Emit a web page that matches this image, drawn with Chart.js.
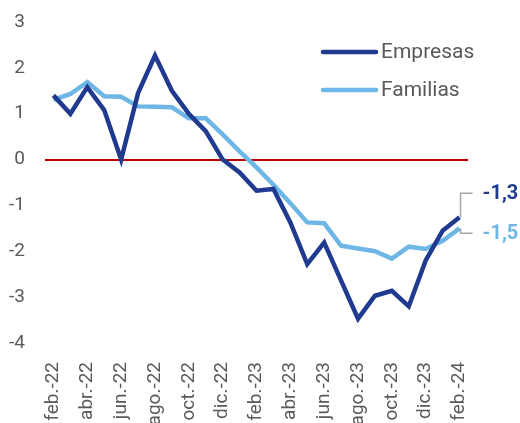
<!DOCTYPE html>
<html><head><meta charset="utf-8">
<script src="https://cdn.jsdelivr.net/npm/chart.js@4/dist/chart.umd.min.js"></script>
<style>html,body{margin:0;padding:0;background:#fff;}#wrap{width:520px;height:423px;}</style>
</head><body><div id="wrap"><canvas id="c" width="520" height="423"></canvas></div>
<script>
const categories = ['feb.-22','mar.-22','abr.-22','may.-22','jun.-22','jul.-22','ago.-22','sep.-22','oct.-22','nov.-22','dic.-22',
  'ene.-23','feb.-23','mar.-23','abr.-23','may.-23','jun.-23','jul.-23','ago.-23','sep.-23','oct.-23','nov.-23','dic.-23',
  'ene.-24','feb.-24'];
const empresas = [1.4,1.0,1.58,1.08,0.0,1.45,2.27,1.5,1.0,0.62,0.0,-0.28,-0.68,-0.64,-1.37,-2.28,-1.81,-2.64,-3.47,-2.97,-2.86,-3.2,-2.2,-1.55,-1.26];
const familias = [1.3,1.43,1.69,1.38,1.37,1.16,1.15,1.14,0.9,0.9,0.55,0.18,-0.17,-0.55,-0.95,-1.37,-1.39,-1.88,-1.94,-2.0,-2.16,-1.9,-1.95,-1.77,-1.5];
const seriesNames = ['Empresas','Familias'];
const yTicks = [-4,-3,-2,-1,0,1,2,3];

const DARK = '#203a8f', LIGHT = '#6db6e6', GREY = '#595959';
const FONT = 'Roboto, "Liberation Sans", sans-serif';

const overlay = {
  id: 'overlay',
  afterDatasetsDraw(chart) {
    const ctx = chart.ctx, ca = chart.chartArea;
    ctx.save();
    // legend
    chart.data.datasets.forEach((ds, i) => {
      const y = ca.top + 30 + i * 38;
      const x0 = ca.right - 145;
      ctx.strokeStyle = ds.borderColor; ctx.lineWidth = 4.5; ctx.lineCap = 'round';
      ctx.beginPath(); ctx.moveTo(x0, y); ctx.lineTo(x0 + 53, y); ctx.stroke();
      ctx.fillStyle = GREY; ctx.font = '21px ' + FONT; ctx.textBaseline = 'middle'; ctx.textAlign = 'left';
      ctx.fillText(ds.label, x0 + 58, y + 1);
    });
    // end labels
    const offs = [-24, 5];
    chart.data.datasets.forEach((ds, i) => {
      const meta = chart.getDatasetMeta(i);
      const pt = meta.data[meta.data.length - 1];
      const v = ds.data[ds.data.length - 1];
      const ly = pt.y + offs[i];
      ctx.strokeStyle = '#a6a6a6'; ctx.lineWidth = 1.5; ctx.lineCap = 'butt';
      ctx.beginPath(); ctx.moveTo(pt.x + 1, pt.y); ctx.lineTo(pt.x + 1, ly); ctx.lineTo(pt.x + 13, ly); ctx.stroke();
      ctx.fillStyle = ds.borderColor; ctx.font = 'bold 20px ' + FONT; ctx.textAlign = 'left'; ctx.textBaseline = 'middle';
      ctx.fillText(v.toFixed(1).replace('.', ','), pt.x + 23, ly + 1);
    });
    ctx.restore();
  }
};

new Chart(document.getElementById('c'), {
  type: 'line',
  data: {
    labels: categories,
    datasets: [
      {label: seriesNames[0], data: empresas, borderColor: DARK, backgroundColor: DARK, borderWidth: 4.5, pointRadius: 0, tension: 0, borderJoinStyle: 'miter'},
      {label: seriesNames[1], data: familias, borderColor: LIGHT, backgroundColor: LIGHT, borderWidth: 4.5, pointRadius: 0, tension: 0, borderJoinStyle: 'miter'}
    ]
  },
  options: {
    responsive: false, animation: false, devicePixelRatio: 1,
    layout: {padding: {top: 22, right: 52, bottom: 0, left: 0}},
    plugins: {legend: {display: false}, tooltip: {enabled: false}},
    scales: {
      x: {
        type: 'category', offset: true,
        afterFit: s => { s.height = 80; },
        grid: {display: false}, border: {display: false},
        ticks: {autoSkip: false, maxRotation: 90, minRotation: 90, padding: 11, color: GREY,
          font: {family: FONT, size: 19},
          callback: function(v, i) { return i % 2 === 0 ? categories[i] : ''; }}
      },
      y: {
        min: yTicks[0], max: yTicks[yTicks.length - 1],
        afterFit: s => { s.width = 45; },
        afterBuildTicks: s => { s.ticks = yTicks.map(v => ({value: v})); },
        grid: {drawTicks: true, tickLength: 20, tickColor: 'rgba(0,0,0,0)',
          color: c => c.tick && c.tick.value === 0 ? '#c00000' : 'rgba(0,0,0,0)',
          lineWidth: c => c.tick && c.tick.value === 0 ? 2 : 0},
        border: {display: false},
        ticks: {padding: 0, color: GREY, font: {family: FONT, size: 19}}
      }
    }
  },
  plugins: [overlay]
});
</script></body></html>
